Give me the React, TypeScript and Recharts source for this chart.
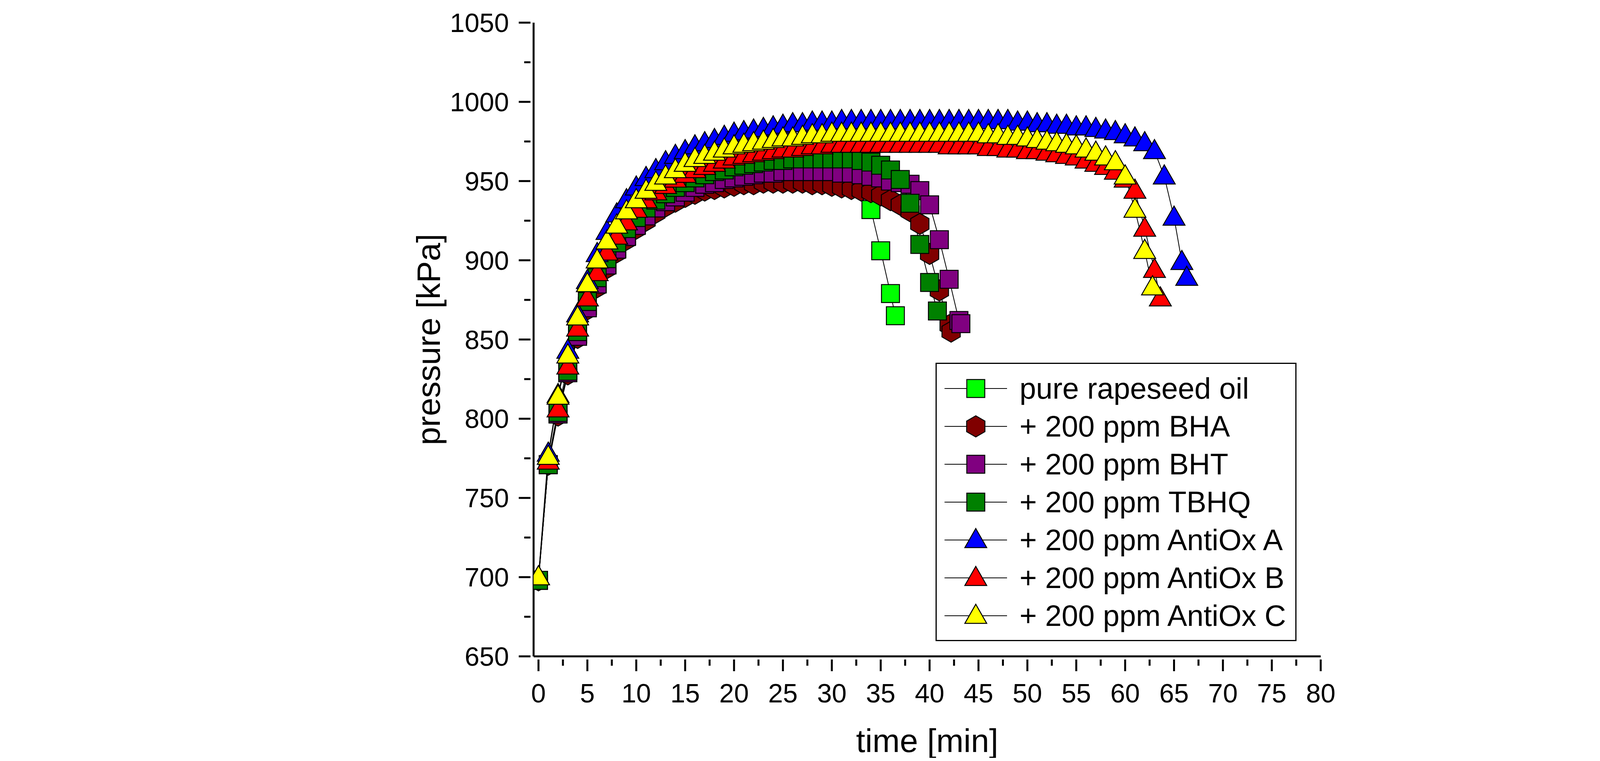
import { LineChart, Line, XAxis, YAxis, Label } from 'recharts';

// time [min] for each series
const tPure = [0,1,2,3,4,5,6,7,8,9,10,11,12,13,14,15,16,17,18,19,20,21,22,23,24,25,26,27,28,29,30,31,32,33,34,35,36,36.5];
const pPure = [698,771,803,829,853,871,886,899,909,917,924,930,935,939,943,946,948,950,952,953,954,955,955,956,956,956,956,956,955,955,954,952,950,946,932,906,879,865];

const tBHA = [0,1,2,3,4,5,6,7,8,9,10,11,12,13,14,15,16,17,18,19,20,21,22,23,24,25,26,27,28,29,30,31,32,33,34,35,36,37,38,39,40,41,42,42.2];
const pBHA = [698,771,802,828,851,869,883,895,905,913,920,925,930,934,937,940,942,944,945,946,947,948,948,949,949,949,949,949,948,948,947,946,945,944,943,941,938,935,931,923,904,881,859,855];

const tBHT = [0,1,2,3,4,5,6,7,8,9,10,11,12,13,14,15,16,17,18,19,20,21,22,23,24,25,26,27,28,29,30,31,32,33,34,35,36,37,38,39,40,41,42,43,43.2];
const pBHT = [698,771,803,829,852,870,885,897,907,915,922,928,933,937,940,943,946,948,949,951,952,953,954,955,955,956,956,956,956,956,956,955,955,954,953,952,950,949,948,944,935,913,888,862,860];

const tTBHQ = [0,1,2,3,4,5,6,7,8,9,10,11,12,13,14,15,16,17,18,19,20,21,22,23,24,25,26,27,28,29,30,31,32,33,34,35,36,37,38,39,40,40.8];
const pTBHQ = [698,771,804,830,855,874,889,901,911,920,927,933,938,942,946,949,952,954,956,957,959,960,961,962,963,963,964,964,964,964,964,964,964,963,962,960,957,951,936,910,886,868];

const tA = [0,1,2,3,4,5,6,7,8,9,10,11,12,13,14,15,16,17,18,19,20,21,22,23,24,25,26,27,28,29,30,31,32,33,34,35,36,37,38,39,40,41,42,43,44,45,46,47,48,49,50,51,52,53,54,55,56,57,58,59,60,61,62,63,64,65,65.8,66.3];
const pA = [700,778,815,843,866,887,904,918,929,938,946,952,957,962,966,969,972,974,976,978,980,981,982,983,984,985,986,986,987,987,987,988,988,988,988,988,988,988,988,988,988,988,988,988,988,988,988,988,988,987,987,986,986,985,985,984,984,983,982,981,979,977,974,969,953,927,899,889];

const tB = [0,1,2,3,4,5,6,7,8,9,10,11,12,13,14,15,16,17,18,19,20,21,22,23,24,25,26,27,28,29,30,31,32,33,34,35,36,37,38,39,40,41,42,43,44,45,46,47,48,49,50,51,52,53,54,55,56,57,58,59,60,61,62,63,63.6];
const pB = [700,773,806,833,857,876,892,905,915,924,932,938,943,947,951,954,957,959,961,963,965,966,967,968,969,970,970,971,972,972,973,973,973,973,973,973,973,973,973,973,973,973,972,972,972,972,971,971,970,970,969,969,968,967,966,965,963,961,959,956,951,944,920,894,876];

const tC = [0,1,2,3,4,5,6,7,8,9,10,11,12,13,14,15,16,17,18,19,20,21,22,23,24,25,26,27,28,29,30,31,32,33,34,35,36,37,38,39,40,41,42,43,44,45,46,47,48,49,50,51,52,53,54,55,56,57,58,59,60,61,62,62.8];
const pC = [700,776,814,840,864,885,900,912,922,931,938,944,949,953,957,961,964,966,968,970,972,973,974,975,976,977,977,978,979,979,980,980,980,980,980,980,980,980,980,980,980,980,980,980,980,980,979,979,978,978,977,976,975,974,973,972,970,968,965,962,953,932,906,883];

const xTicks = Array.from({ length: 33 }, (_, i) => i * 2.5);
const yTicks = Array.from({ length: 17 }, (_, i) => 650 + i * 25);

const zip = (t: number[], p: number[]) => t.map((x, i) => ({ t: x, p: p[i] }));

const FONT = '"Liberation Sans", Arial, sans-serif';

const Square = ({ cx, cy, fill, s = 23 }: any) => (
  <rect x={cx - s} y={cy - s} width={2 * s} height={2 * s} fill={fill} stroke="#000" strokeWidth={2.5} />
);
const Hex = ({ cx, cy, fill, r = 27 }: any) => {
  const pts = Array.from({ length: 6 }, (_, i) => {
    const a = (Math.PI / 3) * i + Math.PI / 6;
    return `${cx + r * Math.cos(a)},${cy + r * Math.sin(a)}`;
  }).join(' ');
  return <polygon points={pts} fill={fill} stroke="#000" strokeWidth={2.5} />;
};
const Tri = ({ cx, cy, fill, r = 28 }: any) => (
  <polygon points={`${cx},${cy - r * 1.05} ${cx + r},${cy + r * 0.7} ${cx - r},${cy + r * 0.7}`} fill={fill} stroke="#000" strokeWidth={2.5} />
);

const series = [
  { name: 'pure rapeseed oil', t: tPure, p: pPure, color: '#00ff00', shape: Square },
  { name: '+ 200 ppm BHA', t: tBHA, p: pBHA, color: '#800000', shape: Hex },
  { name: '+ 200 ppm BHT', t: tBHT, p: pBHT, color: '#800080', shape: Square },
  { name: '+ 200 ppm TBHQ', t: tTBHQ, p: pTBHQ, color: '#008000', shape: Square },
  { name: '+ 200 ppm AntiOx A', t: tA, p: pA, color: '#0000ff', shape: Tri },
  { name: '+ 200 ppm AntiOx B', t: tB, p: pB, color: '#ff0000', shape: Tri },
  { name: '+ 200 ppm AntiOx C', t: tC, p: pC, color: '#ffff00', shape: Tri },
];

const XTick = ({ x, y, payload }: any) => {
  const major = payload.value % 5 === 0;
  return (
    <g>
      <line x1={x} y1={y} x2={x} y2={y + (major ? 30 : 16)} stroke="#000" strokeWidth={5} />
      {major && (
        <text x={x} y={y + 110} textAnchor="middle" fontSize={68} fontFamily={FONT} fill="#000">{payload.value}</text>
      )}
    </g>
  );
};
const YTick = ({ x, y, payload }: any) => {
  const major = payload.value % 50 === 0;
  return (
    <g>
      <line x1={x} y1={y} x2={x - (major ? 30 : 16)} y2={y} stroke="#000" strokeWidth={5} />
      {major && (
        <text x={x - 55} y={y + 24} textAnchor="end" fontSize={68} fontFamily={FONT} fill="#000">{payload.value}</text>
      )}
    </g>
  );
};

const LegendBox = () => (
  <div style={{ position: 'absolute', left: 2387, top: 921, border: '3px solid #000', background: '#fff', padding: '14px 24px 14px 10px', fontFamily: FONT, fontSize: 76 }}>
    {series.map((s) => {
      const Shape = s.shape;
      return (
        <div key={s.name} style={{ display: 'flex', alignItems: 'center', height: 97 }}>
          <svg width={180} height={80}>
            <line x1={10} y1={40} x2={170} y2={40} stroke="#000" strokeWidth={2} />
            <Shape cx={90} cy={40} fill={s.color} />
          </svg>
          <span style={{ marginLeft: 22, whiteSpace: 'nowrap' }}>{s.name}</span>
        </div>
      );
    })}
  </div>
);

export default function App() {
  return (
    <div style={{ width: 4466, height: 1933, background: '#fff', position: 'relative' }}>
      <LineChart width={4466} height={1933} margin={{ top: 50, right: 1093, left: 1158, bottom: 110 }}>
        <XAxis
          dataKey="t"
          type="number"
          domain={[-0.5, 80]}
          ticks={xTicks}
          interval={0}
          allowDataOverflow
          tick={<XTick />}
          tickLine={false}
          axisLine={{ stroke: '#000', strokeWidth: 5 }}
          height={150}
        >
          <Label value="time [min]" position="insideBottom" offset={-95} style={{ fontSize: 84, fontFamily: FONT, fill: '#000' }} />
        </XAxis>
        <YAxis
          dataKey="p"
          type="number"
          domain={[650, 1050]}
          ticks={yTicks}
          interval={0}
          tick={<YTick />}
          tickLine={false}
          axisLine={{ stroke: '#000', strokeWidth: 5 }}
          width={200}
        >
          <Label value="pressure [kPa]" angle={-90} position="insideLeft" offset={-70} style={{ fontSize: 84, fontFamily: FONT, fill: '#000', textAnchor: 'middle' }} />
        </YAxis>
        {series.map((s) => {
          const Shape = s.shape;
          return (
            <Line
              key={s.name}
              data={zip(s.t, s.p)}
              dataKey="p"
              name={s.name}
              stroke="#000"
              strokeWidth={2}
              isAnimationActive={false}
              dot={(props: any) => <Shape key={`${s.name}-${props.index}`} cx={props.cx} cy={props.cy} fill={s.color} />}
              activeDot={false}
            />
          );
        })}
      </LineChart>
      <LegendBox />
    </div>
  );
}
